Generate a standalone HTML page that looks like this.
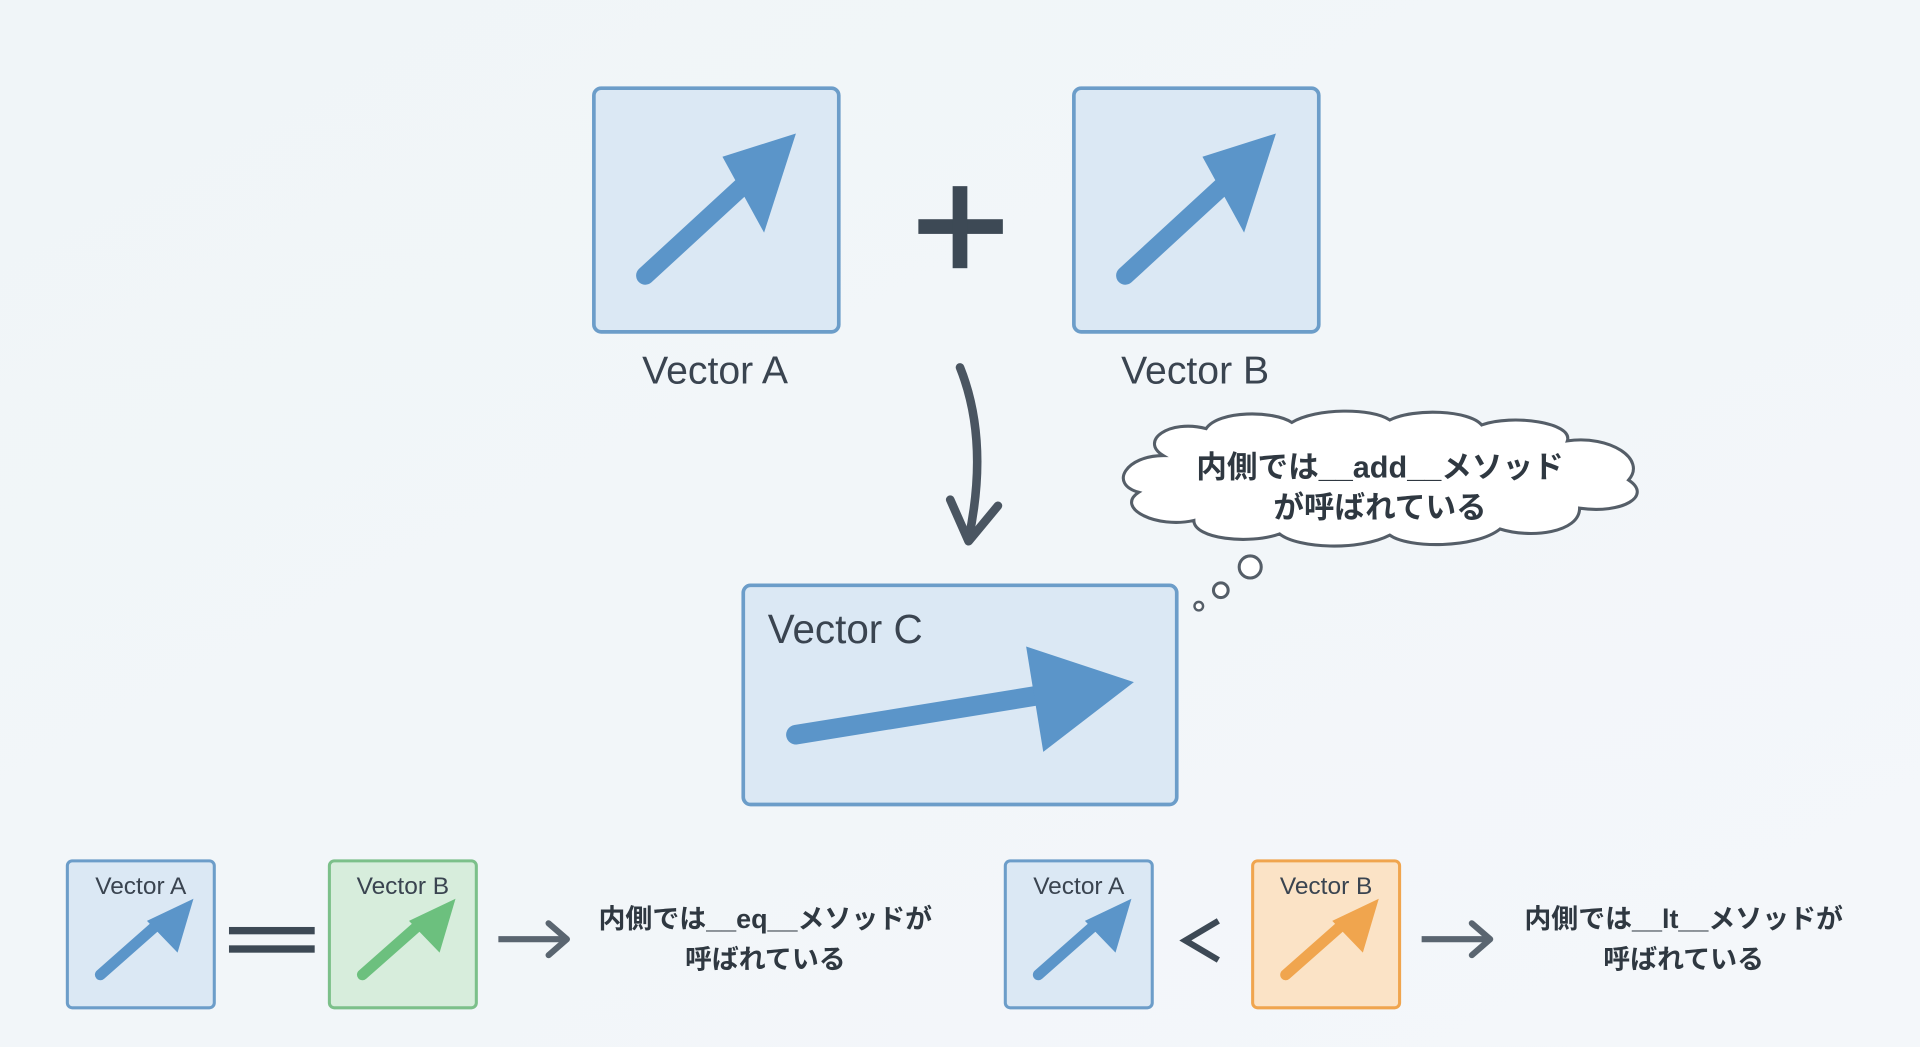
<!DOCTYPE html>
<html><head><meta charset="utf-8"><style>
html,body{margin:0;padding:0;background:#f1f5f8;}
svg{display:block}
text{font-family:"Liberation Sans","Noto Sans CJK JP",sans-serif;}
</style></head><body>
<svg width="1920" height="1047" viewBox="0 0 1568 855" xmlns="http://www.w3.org/2000/svg">
<defs>
<linearGradient id="bg" x1="0" y1="0" x2="1" y2="1"><stop offset="0" stop-color="#f0f5f8"/><stop offset="1" stop-color="#f4f7fa"/></linearGradient>
</defs>
<rect width="1568" height="855" fill="url(#bg)"/>
<!-- Vector A -->
<rect x="485" y="72" width="200" height="199" rx="6" fill="#dbe8f4" stroke="#6c9dc9" stroke-width="3"/>
<line x1="527" y1="225" x2="615" y2="144" stroke="#5b95c9" stroke-width="15" stroke-linecap="round"/>
<polygon points="650,109 624,190 590,128" fill="#5b95c9"/>
<text x="584" y="313" font-size="32" text-anchor="middle" fill="#3a4450">Vector A</text>
<!-- plus -->
<rect x="750" y="179" width="69" height="12" fill="#3d4955"/>
<rect x="778" y="152" width="12" height="67" fill="#3d4955"/>
<!-- Vector B -->
<rect x="877" y="72" width="200" height="199" rx="6" fill="#dbe8f4" stroke="#6c9dc9" stroke-width="3"/>
<line x1="919" y1="225" x2="1007" y2="144" stroke="#5b95c9" stroke-width="15" stroke-linecap="round"/>
<polygon points="1042,109 1016,190 982,128" fill="#5b95c9"/>
<text x="976" y="313" font-size="32" text-anchor="middle" fill="#3a4450">Vector B</text>
<!-- curved arrow -->
<path d="M784,300 Q808,360 791,440" fill="none" stroke="#4a5561" stroke-width="7" stroke-linecap="round"/>
<path d="M776,408 L791,442 L815,413" fill="none" stroke="#4a5561" stroke-width="7" stroke-linecap="round" stroke-linejoin="round"/>
<!-- cloud -->
<path d="M950,372 C930,360 955,342 985,350 C995,335 1040,335 1055,345 C1075,333 1120,333 1135,343 C1155,333 1200,335 1210,347 C1235,338 1285,345 1280,360 C1315,355 1345,375 1330,392 C1350,405 1325,420 1290,415 C1290,435 1250,440 1225,432 C1205,448 1150,448 1135,437 C1110,450 1060,448 1045,436 C1020,445 975,440 975,425 C945,432 910,415 930,402 C905,395 920,372 950,372 Z" fill="#fff" stroke="#555e68" stroke-width="2.5"/>
<text x="1127" y="390" font-size="25" font-weight="bold" text-anchor="middle" fill="#2f3841">内側では__add__メソッド</text>
<text x="1127" y="423" font-size="25" font-weight="bold" text-anchor="middle" fill="#2f3841">が呼ばれている</text>
<circle cx="1021" cy="463" r="9" fill="#fff" stroke="#555e68" stroke-width="2.5"/>
<circle cx="997" cy="482" r="6" fill="#fff" stroke="#555e68" stroke-width="2.5"/>
<circle cx="979" cy="495" r="3.5" fill="#fff" stroke="#555e68" stroke-width="2"/>
<!-- Vector C -->
<rect x="607" y="478" width="354" height="179" rx="6" fill="#dbe8f4" stroke="#6c9dc9" stroke-width="3"/>
<text x="627" y="525" font-size="33" fill="#3a4450">Vector C</text>
<line x1="650" y1="600" x2="860" y2="566" stroke="#5b95c9" stroke-width="16" stroke-linecap="round"/>
<polygon points="926,557 852,614 838,528" fill="#5b95c9"/>
<!-- bottom left -->
<rect x="55" y="703" width="120" height="120" rx="4" fill="#dbe8f4" stroke="#6c9dc9" stroke-width="2.5"/>
<text x="115" y="730" font-size="20" text-anchor="middle" fill="#3a4450">Vector A</text>
<line x1="82" y1="796" x2="133" y2="751" stroke="#5b95c9" stroke-width="9" stroke-linecap="round"/>
<polygon points="158,734 145,778 120,752" fill="#5b95c9"/>
<rect x="187" y="757" width="70" height="6" fill="#3d4955"/>
<rect x="187" y="772" width="70" height="6" fill="#3d4955"/>
<rect x="269" y="703" width="120" height="120" rx="4" fill="#d7eddc" stroke="#7cc08a" stroke-width="2.5"/>
<text x="329" y="730" font-size="20" text-anchor="middle" fill="#3a4450">Vector B</text>
<line x1="296" y1="796" x2="347" y2="751" stroke="#6cc07e" stroke-width="9" stroke-linecap="round"/>
<polygon points="372,734 359,778 334,752" fill="#6cc07e"/>
<line x1="407" y1="767" x2="462" y2="767" stroke="#5a6570" stroke-width="5"/>
<path d="M448,754 L463,767 L448,780" fill="none" stroke="#5a6570" stroke-width="5" stroke-linecap="round" stroke-linejoin="round"/>
<text x="625" y="758" font-size="22" font-weight="bold" text-anchor="middle" fill="#2f3841">内側では__eq__メソッドが</text>
<text x="625" y="791" font-size="22" font-weight="bold" text-anchor="middle" fill="#2f3841">呼ばれている</text>
<!-- bottom right -->
<rect x="821" y="703" width="120" height="120" rx="4" fill="#dbe8f4" stroke="#6c9dc9" stroke-width="2.5"/>
<text x="881" y="730" font-size="20" text-anchor="middle" fill="#3a4450">Vector A</text>
<line x1="848" y1="796" x2="899" y2="751" stroke="#5b95c9" stroke-width="9" stroke-linecap="round"/>
<polygon points="924,734 911,778 886,752" fill="#5b95c9"/>
<path d="M995,752 L968,768 L995,784" fill="none" stroke="#3d4955" stroke-width="5"/>
<rect x="1023" y="703" width="120" height="120" rx="4" fill="#fbe3c6" stroke="#f0a54e" stroke-width="2.5"/>
<text x="1083" y="730" font-size="20" text-anchor="middle" fill="#3a4450">Vector B</text>
<line x1="1050" y1="796" x2="1101" y2="751" stroke="#f0a54e" stroke-width="9" stroke-linecap="round"/>
<polygon points="1126,734 1113,778 1088,752" fill="#f0a54e"/>
<line x1="1161" y1="767" x2="1216" y2="767" stroke="#5a6570" stroke-width="5"/>
<path d="M1202,754 L1217,767 L1202,780" fill="none" stroke="#5a6570" stroke-width="5" stroke-linecap="round" stroke-linejoin="round"/>
<text x="1375" y="758" font-size="22" font-weight="bold" text-anchor="middle" fill="#2f3841">内側では__lt__メソッドが</text>
<text x="1375" y="791" font-size="22" font-weight="bold" text-anchor="middle" fill="#2f3841">呼ばれている</text>
</svg>
</body></html>
